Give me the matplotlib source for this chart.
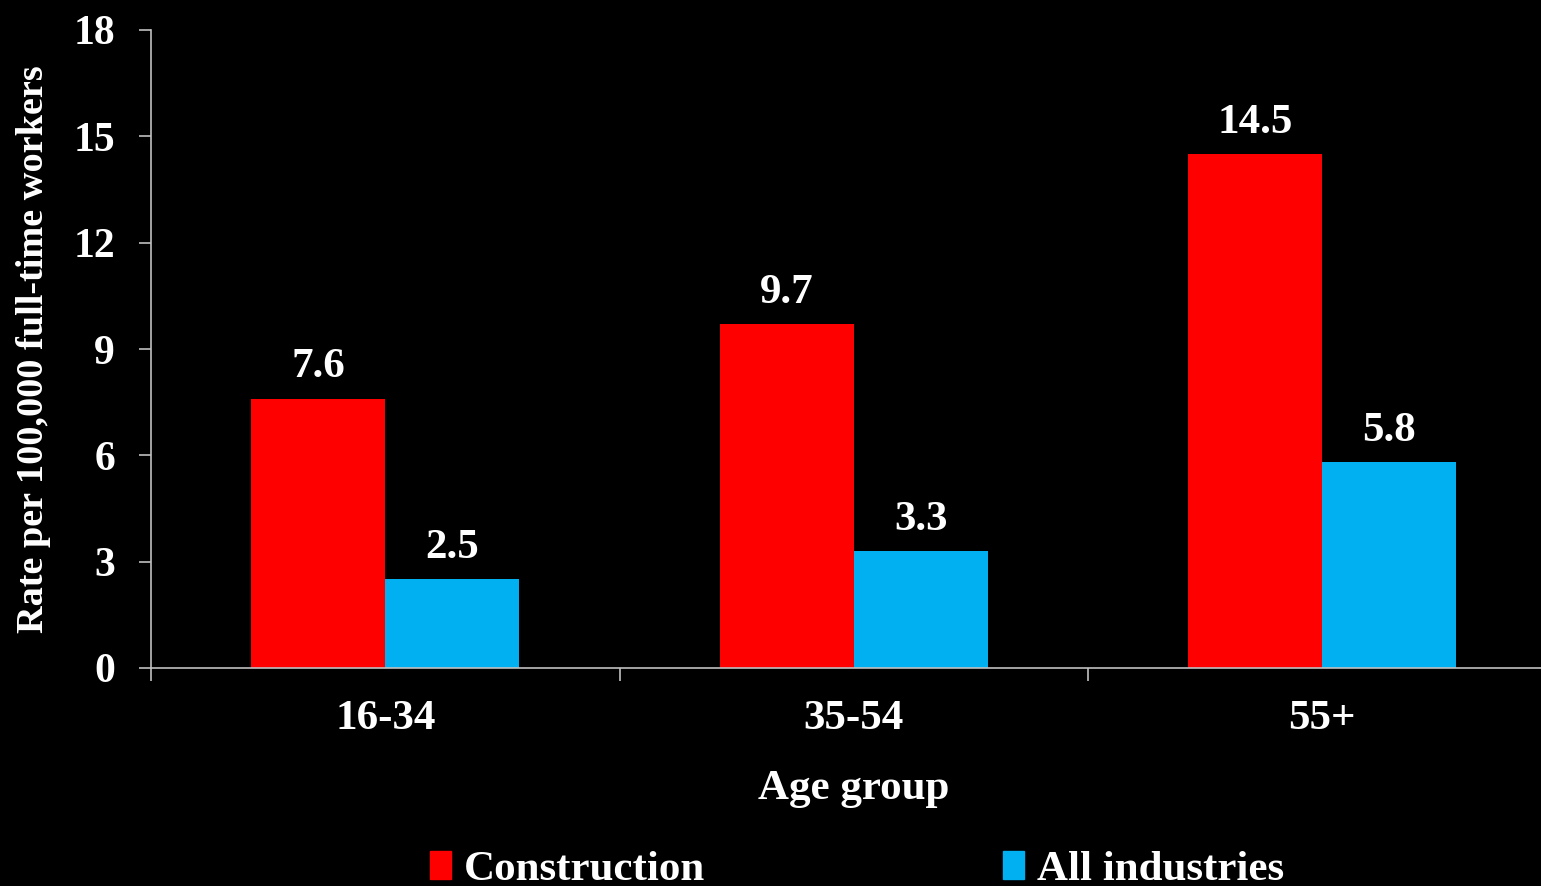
import numpy as np
import matplotlib
matplotlib.use("Agg")
import matplotlib.pyplot as plt
from matplotlib.patches import Patch

groups = ["16-34", "35-54", "55+"]
construction = [7.6, 9.7, 14.5]
all_ind = [2.5, 3.3, 5.8]
yticks = [0, 3, 6, 9, 12, 15, 18]

plt.rcParams['font.family'] = ['Liberation Serif', 'DejaVu Serif']
plt.rcParams['font.weight'] = 'bold'

fig = plt.figure(figsize=(15.41, 8.86), dpi=100, facecolor='black')
ax = fig.add_axes([151/1541, 218/886, 1405.5/1541, 638/886])
ax.set_facecolor('black')

x = np.arange(len(groups))
w = 0.286
b1 = ax.bar(x - w/2, construction, w, color='#ff0000', label='Construction')
b2 = ax.bar(x + w/2, all_ind, w, color='#00b0f0', label='All industries')

for bars, vals in [(b1, construction), (b2, all_ind)]:
    for r, v in zip(bars, vals):
        ax.annotate(f"{v}", (r.get_x() + r.get_width()/2, v), xytext=(0, 9),
                    textcoords='offset points', ha='center', va='bottom',
                    color='white', fontsize=31, fontweight='bold')

ax.set_xlim(-0.5, 2.5)
ax.set_ylim(0, 18)
ax.set_yticks(yticks)
ax.set_xticks(x)
ax.set_xticklabels(groups)
ax.set_xticks([-0.5, 0.5, 1.5], minor=True)
ax.tick_params(axis='x', which='major', length=0, pad=23, labelsize=31, colors='white')
ax.tick_params(axis='x', which='minor', length=9, width=1.2, color='#c0c0c0')
ax.tick_params(axis='y', length=9, width=1.2, color='#c0c0c0', labelsize=30,
               labelcolor='white', pad=17)
for s in ['top', 'right']:
    ax.spines[s].set_visible(False)
for s in ['left', 'bottom']:
    ax.spines[s].set_color('#c0c0c0')
    ax.spines[s].set_linewidth(1.2)

ax.set_xlabel('Age group', color='white', fontsize=31, fontweight='bold', labelpad=23)
ax.set_ylabel('Rate per 100,000 full-time workers', color='white', fontsize=27.5,
              fontweight='bold', labelpad=16)

handles = [Patch(color='#ff0000'), Patch(color='#00b0f0')]
leg = fig.legend(handles, ['Construction', 'All industries'], ncol=2, loc='center',
                 bbox_to_anchor=(857/1541, 1 - 870/886), frameon=False, fontsize=31,
                 handlelength=0.5, handleheight=0.65, handletextpad=0.3,
                 columnspacing=6.9, labelcolor='white')

fig.savefig('out.png', dpi=100, facecolor='black')
